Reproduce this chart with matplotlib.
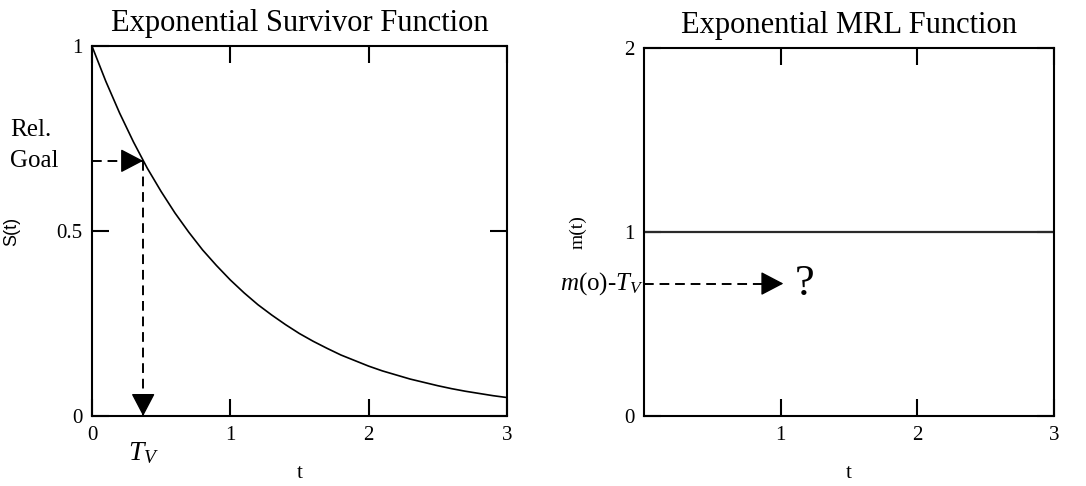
import numpy as np
import matplotlib
matplotlib.use("Agg")
import matplotlib.pyplot as plt
from matplotlib.transforms import blended_transform_factory

plt.rcParams["font.family"] = "Liberation Serif"
plt.rcParams["mathtext.fontset"] = "custom"
plt.rcParams["mathtext.rm"] = "Liberation Serif"
plt.rcParams["mathtext.it"] = "Liberation Serif:italic"

# survivor curve S(t), read at steps of 0.1
surv_t = [0.0, 0.1, 0.2, 0.3, 0.4, 0.5, 0.6, 0.7, 0.8, 0.9, 1.0,
          1.1, 1.2, 1.3, 1.4, 1.5, 1.6, 1.7, 1.8, 1.9, 2.0,
          2.1, 2.2, 2.3, 2.4, 2.5, 2.6, 2.7, 2.8, 2.9, 3.0]
surv_s = [1.000, 0.905, 0.819, 0.741, 0.670, 0.607, 0.549, 0.497, 0.449, 0.407, 0.368,
          0.333, 0.301, 0.273, 0.247, 0.223, 0.202, 0.183, 0.165, 0.150, 0.135,
          0.122, 0.111, 0.100, 0.091, 0.082, 0.074, 0.067, 0.061, 0.055, 0.050]

# mean residual life, constant
mrl_t = [0.0, 3.0]
mrl_m = [1.0, 1.0]

rel_goal = 0.69
t_v = 0.37
mrl_arrow_y = 0.72
mrl_arrow_end = 1.02

left_xticks = [0, 1, 2, 3]
left_xlabels = ["0", "1", "2", "3"]
left_yticks = [0, 0.5, 1]
left_ylabels = ["0", "0.5", "1"]
right_xticks = [1, 2, 3]
right_xlabels = ["1", "2", "3"]
right_yticks = [0, 1, 2]
right_ylabels = ["0", "1", "2"]

fig = plt.figure(figsize=(10.86, 4.86), dpi=100)
ax1 = fig.add_axes([0.0847, 0.144, 0.382, 0.761])
ax2 = fig.add_axes([0.593, 0.144, 0.3775, 0.757])

for ax in (ax1, ax2):
    for sp in ax.spines.values():
        sp.set_linewidth(1.5)
    ax.tick_params(direction="in", length=12, width=1.5, top=True, right=True,
                   labelsize=15, pad=7)

head_kw = dict(arrowstyle="-|>,head_length=0.42,head_width=0.22", lw=1.0,
               color="black", mutation_scale=34, shrinkA=0, shrinkB=0)


def dashed_arrow(ax, start, end, dx, dy):
    # dashed shaft plus a solid filled head at the end point
    ax.plot([start[0], end[0]], [start[1], end[1]], color="black", lw=1.4,
            ls=(0, (5, 3)))
    ax.annotate("", xy=end, xytext=(dx, dy), textcoords="offset points",
                arrowprops=head_kw)


# left: survivor function
ax1.plot(surv_t, surv_s, color="black", lw=1.2)
ax1.set_xlim(0, 3)
ax1.set_ylim(0, 1)
ax1.set_xticks(left_xticks, left_xlabels)
ax1.set_yticks(left_yticks, left_ylabels)
ax1.set_title("Exponential Survivor Function", fontsize=22, pad=11)
ax1.set_xlabel("t", fontsize=15)
ax1.xaxis.set_label_coords(0.5, -0.13)
ax1.set_ylabel("S(t)", fontsize=13, family="Liberation Sans")
ax1.yaxis.set_label_coords(-0.172, 0.5)

dashed_arrow(ax1, (0, rel_goal), (t_v, rel_goal), -14, 0)
dashed_arrow(ax1, (t_v, rel_goal), (t_v, 0), 0, 14)

blend1 = blended_transform_factory(ax1.transAxes, ax1.transData)
ax1.text(-0.198, rel_goal, "Goal", transform=blend1, fontsize=18,
         ha="left", va="center")
ax1.annotate("Rel.", xy=(-0.198, rel_goal), xycoords=blend1, xytext=(0, 22),
             textcoords="offset points", fontsize=18, ha="left", va="center")
ax1.text(t_v, -0.10, r"$T_V$", transform=ax1.get_xaxis_transform(),
         fontsize=20, ha="center", va="center")

# right: MRL function
ax2.plot(mrl_t, mrl_m, color="#2a2a2a", lw=1.6)
ax2.set_xlim(0, 3)
ax2.set_ylim(0, 2)
ax2.set_xticks(right_xticks, right_xlabels)
ax2.set_yticks(right_yticks, right_ylabels)
ax2.set_title("Exponential MRL Function", fontsize=22, pad=11)
ax2.set_xlabel("t", fontsize=15)
ax2.xaxis.set_label_coords(0.5, -0.13)
ax2.set_ylabel("m(t)", fontsize=14)
ax2.yaxis.set_label_coords(-0.14, 0.5)

dashed_arrow(ax2, (0, mrl_arrow_y), (mrl_arrow_end, mrl_arrow_y), -14, 0)
ax2.text(-0.005, mrl_arrow_y, r"$m$(o)-$T_V$", fontsize=18, ha="right", va="center")
ax2.text(mrl_arrow_end + 0.08, mrl_arrow_y, "?", fontsize=32, ha="left", va="center")

fig.savefig("out.png", dpi=100)
